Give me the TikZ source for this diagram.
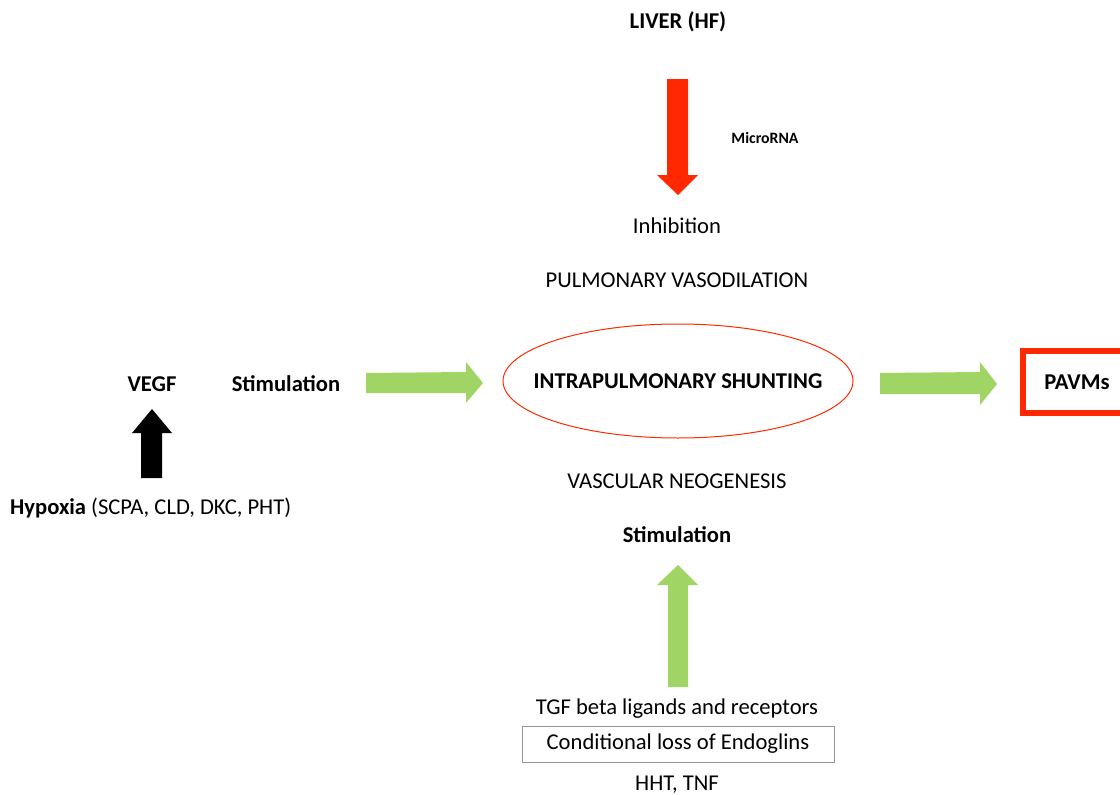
\documentclass[tikz,border=0pt]{standalone}
\usepackage{fontspec}
\setmainfont{Carlito}
\usetikzlibrary{shapes.geometric}
\definecolor{arrred}{RGB}{255,40,0}
\definecolor{arrgreen}{RGB}{160,212,100}
\definecolor{boxgray}{RGB}{150,150,150}
\tikzset{
  lbl/.style={inner sep=0pt, font=\fontsize{22.6}{26}\selectfont, text=black},
  blbl/.style={lbl, font=\fontsize{22.6}{26}\selectfont\bfseries},
  small/.style={inner sep=0pt, font=\fontsize{15.8}{18}\selectfont\bfseries},
  greenarrow/.style={fill=arrgreen, draw=none},
  redarrow/.style={fill=arrred, draw=none},
  blackarrow/.style={fill=black, draw=none}
}
\begin{document}
\begin{tikzpicture}[x=1pt,y=-1pt]
\useasboundingbox (0,0) rectangle (1120,795);
% texts
\node[blbl] (liver) at (678,22) {LIVER (HF)};
\node[small] (micro) at (765,138) {MicroRNA};
\node[lbl] (inhib) at (677,226) {Inhibition};
\node[lbl] (pvd) at (677,280) {PULMONARY VASODILATION};
\node[draw=arrred, line width=1pt, ellipse, minimum width=350, minimum height=114, inner sep=0pt] (shunt) at (678,381) {};
\node[blbl] (shunttxt) at (678,381) {INTRAPULMONARY SHUNTING};
\node[blbl] (vegf) at (152,384) {VEGF};
\node[blbl] (stim1) at (286,384) {Stimulation};
\node[draw=arrred, line width=6pt, minimum width=110, minimum height=62, inner sep=0pt] (pavbox) at (1078,382) {};
\node[blbl] (pavms) at (1077,382) {PAVMs};
\node[lbl, anchor=west] (hyp) at (10,508) {\textbf{Hypoxia} (SCPA, CLD, DKC, PHT)};
\node[lbl] (vneo) at (677,481) {VASCULAR NEOGENESIS};
\node[blbl] (stim2) at (677,535) {Stimulation};
\node[lbl] (tgf) at (677,709) {TGF beta ligands and receptors};
\node[lbl, draw=boxgray, line width=0.6pt, minimum width=312, minimum height=36] (endo) at (678,744) {Conditional loss of Endoglins};
\node[lbl] (hht) at (677,785) {HHT, TNF};
% red arrow down
\fill[redarrow] (667,79) -- (688,79) -- (688,175) -- (698,175) -- (678,195) -- (657,175) -- (667,175) -- cycle;
% left green arrow
\fill[greenarrow] (366,373) -- (466,372) -- (466,362) -- (483,383) -- (466,403) -- (466,393) -- (366,393) -- cycle;
% right green arrow
\fill[greenarrow] (880,373) -- (980,372) -- (980,362) -- (997,384) -- (980,405) -- (980,394) -- (880,394) -- cycle;
% black arrow up
\fill[blackarrow] (141,478) -- (162,478) -- (162,433) -- (172,433) -- (152,409) -- (132,433) -- (141,433) -- cycle;
% green up arrow
\fill[greenarrow] (668,687) -- (688,687) -- (688,585) -- (698,585) -- (678,565) -- (657,585) -- (668,585) -- cycle;
\end{tikzpicture}
\end{document}
